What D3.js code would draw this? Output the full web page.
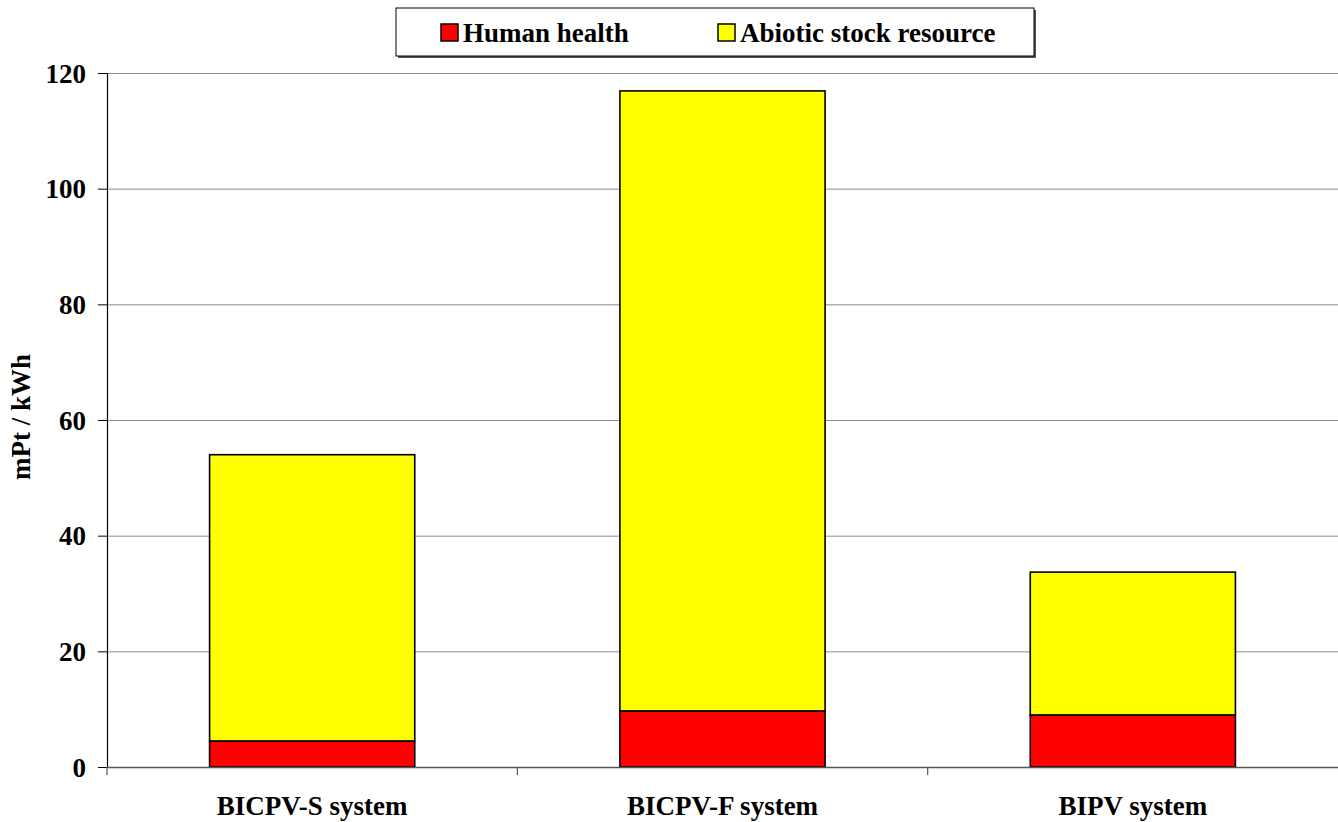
<!DOCTYPE html>
<html>
<head>
<meta charset="utf-8">
<script src="https://cdn.jsdelivr.net/npm/d3@7"></script>
<style>
  html, body { margin: 0; padding: 0; background: #fff; }
  svg { display: block; font-family: "Liberation Serif", "Times New Roman", serif; font-weight: bold; }
</style>
</head>
<body>
<svg id="chart" width="1338" height="822"></svg>
<script>
// Damage per kWh for each building-integrated PV system
const categories = ["BICPV-S system", "BICPV-F system", "BIPV system"];
const humanHealth = [4.5, 9.7, 9.0];
const abioticStock = [49.5, 107.2, 24.7];
const seriesNames = ["Human health", "Abiotic stock resource"];
const seriesColors = ["#ff0000", "#ffff00"];
const yTicks = [0, 20, 40, 60, 80, 100, 120];

const svg = d3.select("#chart");
const margin = { left: 107, right: 0, top: 73, bottom: 55 };
const W = 1338, H = 822;
const plotBottom = H - margin.bottom; // 767
const FONT = "Liberation Serif";

const x = d3.scaleBand().domain(categories).range([margin.left, W - margin.right]).paddingInner(0.5).paddingOuter(0.25);
const y = d3.scaleLinear().domain([0, 120]).range([plotBottom, margin.top]);

const rows = categories.map((c, i) => ({ cat: c, hh: humanHealth[i], ab: abioticStock[i] }));
const stacked = d3.stack().keys(["hh", "ab"])(rows);

// gridlines
svg.append("g").selectAll("line").data(yTicks.filter(t => t > 0)).join("line")
  .attr("x1", margin.left).attr("x2", W)
  .attr("y1", d => y(d) + 0.5).attr("y2", d => y(d) + 0.5)
  .attr("stroke", "#8c8c8c").attr("stroke-width", 1);

// bars
svg.append("g").selectAll("g").data(stacked).join("g")
  .attr("fill", (d, i) => seriesColors[i])
  .selectAll("rect").data(d => d).join("rect")
  .attr("x", d => x(d.data.cat))
  .attr("width", x.bandwidth())
  .attr("y", d => y(d[1]))
  .attr("height", d => y(d[0]) - y(d[1]))
  .attr("stroke", "#000").attr("stroke-width", 1.6);

// y axis
const yAxis = d3.axisLeft(y).tickValues(yTicks).tickSize(9).tickPadding(12);
const gy = svg.append("g").attr("transform", `translate(${margin.left},0)`).call(yAxis);
gy.attr("font-family", FONT).attr("font-weight", "bold");
gy.select(".domain").attr("stroke", "#000").attr("stroke-width", 1.2);
gy.selectAll(".tick line").attr("stroke", "#000");
gy.selectAll(".tick text").attr("font-size", 27).attr("fill", "#000").attr("dy", "0.34em");

// x axis: ticks at band boundaries
const boundaries = [margin.left, ...categories.map(c => x(c) + x.bandwidth() / 2 + x.step() / 2)];
const gx = svg.append("g");
gx.append("line").attr("x1", margin.left).attr("x2", W).attr("y1", plotBottom + 0.5).attr("y2", plotBottom + 0.5)
  .attr("stroke", "#555").attr("stroke-width", 1.5);
gx.selectAll("line.tk").data(boundaries.filter(b => b < W - 1)).join("line").attr("class", "tk")
  .attr("x1", d => d).attr("x2", d => d).attr("y1", plotBottom).attr("y2", plotBottom + 8)
  .attr("stroke", "#555").attr("stroke-width", 1.2);
gx.selectAll("text").data(categories).join("text")
  .attr("x", d => x(d) + x.bandwidth() / 2).attr("y", 815)
  .attr("text-anchor", "middle").attr("font-size", 27).attr("fill", "#000")
  .text(d => d);

// y axis title
svg.append("text").attr("transform", "translate(30,417) rotate(-90)")
  .attr("text-anchor", "middle").attr("font-size", 27).attr("fill", "#000")
  .text("mPt / kWh");

// legend
const lg = svg.append("g");
lg.append("rect").attr("x", 398).attr("y", 10).attr("width", 638).attr("height", 48).attr("fill", "#555");
lg.append("rect").attr("x", 396).attr("y", 8).attr("width", 638).attr("height", 48)
  .attr("fill", "#fff").attr("stroke", "#000").attr("stroke-width", 1);
const legendX = [441, 718];
seriesNames.forEach((n, i) => {
  lg.append("rect").attr("x", legendX[i]).attr("y", 24).attr("width", 17).attr("height", 17)
    .attr("fill", seriesColors[i]).attr("stroke", "#000").attr("stroke-width", 1.5);
  lg.append("text").attr("x", legendX[i] + 22).attr("y", 42).attr("font-size", 27).attr("fill", "#000").text(n);
});
</script>
</body>
</html>
